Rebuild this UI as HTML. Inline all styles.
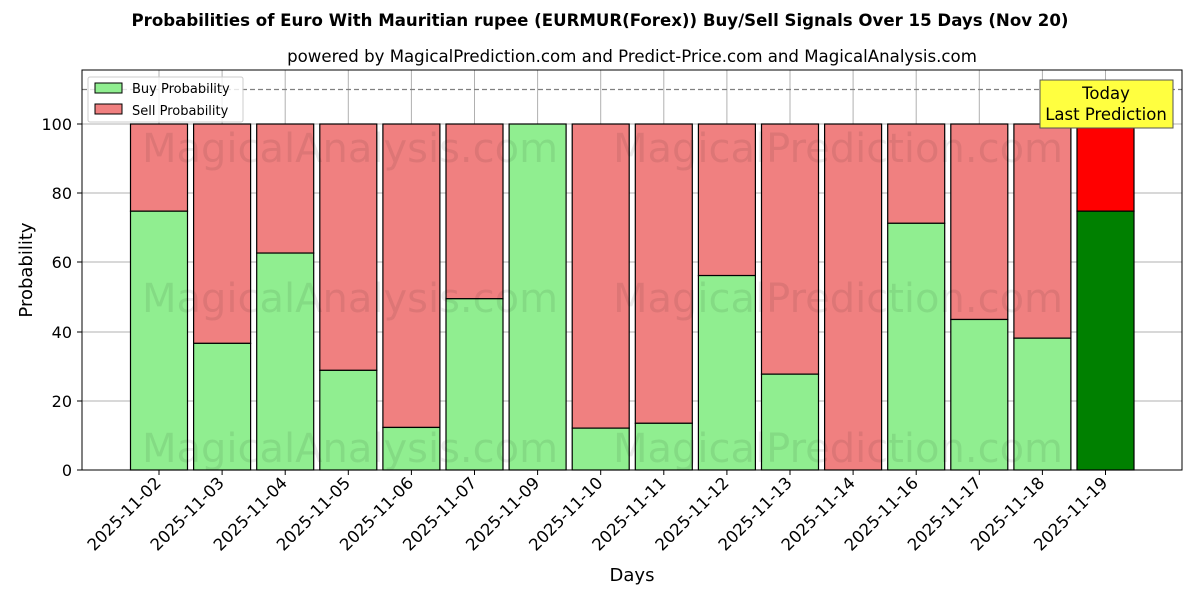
<!DOCTYPE html>
<html><head><meta charset="utf-8"><style>body{margin:0;background:#fff}svg{display:block}</style></head>
<body>
<svg width="1200" height="600" xmlns="http://www.w3.org/2000/svg" font-family="'DejaVu Sans','Liberation Sans',sans-serif">
<rect width="1200" height="600" fill="#fff"/>
<text x="600" y="26" text-anchor="middle" font-size="16.6" font-weight="bold">Probabilities of Euro With Mauritian rupee (EURMUR(Forex)) Buy/Sell Signals Over 15 Days (Nov 20)</text>
<text x="632" y="62" text-anchor="middle" font-size="16.6">powered by MagicalPrediction.com and Predict-Price.com and MagicalAnalysis.com</text>
<g id="grid" stroke="#b0b0b0" stroke-width="1">
<line x1="82" x2="1182" y1="401" y2="401"/><line x1="82" x2="1182" y1="332" y2="332"/><line x1="82" x2="1182" y1="262" y2="262"/><line x1="82" x2="1182" y1="193" y2="193"/><line x1="82" x2="1182" y1="124" y2="124"/>
</g>
<g id="bars" stroke="#000" stroke-width="1.2"></g>
<g id="vgrid" stroke="#b0b0b0" stroke-width="1"></g>
<g font-size="40" fill="#000" fill-opacity="0.08" text-anchor="middle">
<text x="350" y="162">MagicalAnalysis.com</text><text x="838" y="162">MagicalPrediction.com</text>
<text x="350" y="312">MagicalAnalysis.com</text><text x="838" y="312">MagicalPrediction.com</text>
<text x="350" y="462">MagicalAnalysis.com</text><text x="838" y="462">MagicalPrediction.com</text>
</g>
<line x1="82" x2="1182" y1="89.5" y2="89.5" stroke="#808080" stroke-width="1.3" stroke-dasharray="5,3"/>
<rect x="82" y="70" width="1100" height="400" fill="none" stroke="#000" stroke-width="1"/>
<g font-size="16" text-anchor="end">
<text x="72" y="476">0</text><text x="72" y="407">20</text><text x="72" y="338">40</text><text x="72" y="268">60</text><text x="72" y="199">80</text><text x="72" y="130">100</text>
</g>
<g stroke="#000"><line x1="77" x2="82" y1="470" y2="470"/><line x1="77" x2="82" y1="401" y2="401"/><line x1="77" x2="82" y1="332" y2="332"/><line x1="77" x2="82" y1="262" y2="262"/><line x1="77" x2="82" y1="193" y2="193"/><line x1="77" x2="82" y1="124" y2="124"/></g>
<text x="32" y="270" font-size="18" text-anchor="middle" transform="rotate(-90 32 270)">Probability</text>
<text x="632" y="581" font-size="18" text-anchor="middle">Days</text>
<g id="xl" font-size="16.5" text-anchor="end"></g>
<rect x="88" y="77" width="155" height="45" fill="#fff" fill-opacity="0.8" stroke="#ccc" rx="2"/>
<rect x="95" y="83" width="27" height="10" fill="#90ee90" stroke="#000"/>
<text x="132" y="93" font-size="13">Buy Probability</text>
<rect x="95" y="104" width="27" height="10" fill="#f08080" stroke="#000"/>
<text x="132" y="115" font-size="13">Sell Probability</text>
<rect x="1040" y="80" width="133" height="48" fill="#ffff40" stroke="#555"/>
<text x="1106" y="99" font-size="16.5" text-anchor="middle">Today</text>
<text x="1106" y="120" font-size="16.5" text-anchor="middle">Last Prediction</text>
<script>
var v=[74.8,36.6,62.7,28.8,12.3,49.5,100,12.1,13.5,56.2,27.7,0,71.3,43.5,38.1,74.8];
var d=["2025-11-02","2025-11-03","2025-11-04","2025-11-05","2025-11-06","2025-11-07","2025-11-09","2025-11-10","2025-11-11","2025-11-12","2025-11-13","2025-11-14","2025-11-16","2025-11-17","2025-11-18","2025-11-19"];
var ns="http://www.w3.org/2000/svg",b=document.getElementById("bars"),g=document.getElementById("vgrid"),xl=document.getElementById("xl");
function el(p,t,a,txt){var e=document.createElementNS(ns,t);for(var k in a)e.setAttribute(k,a[k]);if(txt)e.textContent=txt;p.appendChild(e);return e;}
for(var i=0;i<16;i++){var c=159+i*63.1,y=470-v[i]*3.46,last=i==15;
el(g,"line",{x1:c,x2:c,y1:70,y2:470});
el(b,"rect",{x:c-28.5,y:124,width:57,height:y-124,fill:last?"#ff0000":"#f08080"});
if(v[i]>0)el(b,"rect",{x:c-28.5,y:y,width:57,height:470-y,fill:last?"#008000":"#90ee90"});
el(xl,"line",{x1:c,x2:c,y1:470,y2:475,stroke:"#000"});
el(xl,"text",{x:c+3,y:484,transform:"rotate(-45 "+(c+3)+" 484)"},d[i]);}
g.parentNode.insertBefore(g,b);
</script>
</svg>
</body></html>
